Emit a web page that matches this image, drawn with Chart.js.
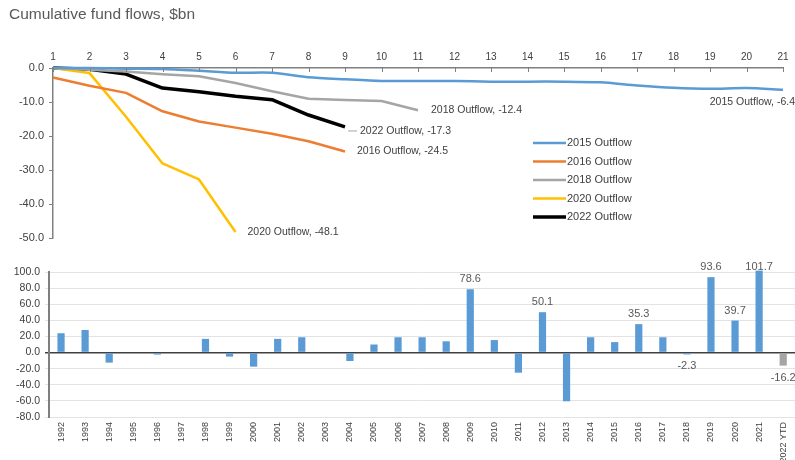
<!DOCTYPE html>
<html><head><meta charset="utf-8">
<script src="https://cdn.jsdelivr.net/npm/chart.js@4.4.0/dist/chart.umd.min.js"></script>
<style>
html,body{margin:0;padding:0;background:#fff;}
#wrap{position:relative;width:795px;height:460px;overflow:hidden;font-family:"Liberation Sans",Arial,sans-serif;}
#title{position:absolute;left:9px;top:5px;font-size:15.5px;color:#595959;white-space:nowrap;}
#c1{position:absolute;left:0;top:0;}
#c2{position:absolute;left:0;top:250px;}
</style></head><body>
<div id="wrap">
<canvas id="c1" width="795" height="250"></canvas>
<canvas id="c2" width="799" height="210"></canvas>
<div id="title">Cumulative fund flows, $bn</div>
</div>
<script>
// ---- Top panel data ----
const dayLabels = ['1','2','3','4','5','6','7','8','9','10','11','12','13','14','15','16','17','18','19','20','21'];
const outflow2015 = [0, 0, -0.2, -0.3, -0.8, -1.4, -1.4, -2.7, -3.3, -3.8, -3.8, -3.8, -4.0, -4.0, -4.0, -4.2, -5.1, -5.8, -6.1, -5.9, -6.4];
const outflow2016 = [-2.8, -5.2, -7.3, -12.7, -15.7, -17.5, -19.3, -21.5, -24.5];
const outflow2018 = [0, -0.5, -1.0, -1.8, -2.4, -4.4, -6.8, -9.0, -9.4, -9.7, -12.4];
const outflow2020 = [0, -1.5, -14.3, -28.0, -32.7, -48.1];
const outflow2022 = [0, -0.4, -1.8, -5.9, -7.0, -8.3, -9.3, -13.8, -17.3];
const seriesNames = ['2015 Outflow', '2016 Outflow', '2018 Outflow', '2020 Outflow', '2022 Outflow'];

// ---- Bottom panel data ----
const years = ['1992','1993','1994','1995','1996','1997','1998','1999','2000','2001','2002','2003','2004','2005','2006','2007','2008','2009','2010','2011','2012','2013','2014','2015','2016','2017','2018','2019','2020','2021','2022 YTD'];
const annualFlows = [24, 28, -12.5, 0, -2.5, 0, 17, -5, -17.5, 17, 19, 0, -10.5, 10, 19, 19, 14, 78.6, 15.5, -25, 50.1, -60.5, 19, 13, 35.3, 19, -2.3, 93.6, 39.7, 101.7, -16.2];
const labelledYears = ['2009','2012','2016','2018','2019','2020','2021','2022 YTD'];

const BLUE = '#5B9BD5', ORANGE = '#ED7D31', GREY = '#A5A5A5', YELLOW = '#FFC000', BLACK = '#000000';
const TXT = '#404040';
const FONT = '"Liberation Sans", Arial, sans-serif';

const seriesData = [outflow2015, outflow2016, outflow2018, outflow2020, outflow2022];
const seriesColors = [BLUE, ORANGE, GREY, YELLOW, BLACK];
const seriesWidths = [2.5, 2.5, 2.5, 2.5, 3.5];

// label placement styles (offsets from the last point)
const endLabelStyle = [
  {dx: 12, dy: 12, align: 'right'},
  {dx: 12, dy: 0, align: 'left'},
  {dx: 13, dy: 0, align: 'left'},
  {dx: 12, dy: 0, align: 'left'},
  {dx: 15, dy: 4, align: 'left', leader: true}
];

const endLabelsPlugin = {
  id: 'endLabels',
  afterDatasetsDraw(chart) {
    const ctx = chart.ctx;
    ctx.save();
    ctx.font = '10.5px ' + FONT;
    ctx.fillStyle = TXT;
    ctx.textBaseline = 'middle';
    chart.data.datasets.forEach((ds, i) => {
      const meta = chart.getDatasetMeta(i);
      const last = meta.data[meta.data.length - 1];
      const v = ds.data[ds.data.length - 1];
      const st = endLabelStyle[i];
      const txt = ds.label + ', ' + v.toFixed(1);
      if (st.leader) {
        ctx.strokeStyle = '#A5A5A5';
        ctx.lineWidth = 1;
        ctx.beginPath();
        ctx.moveTo(last.x + 3, last.y + st.dy);
        ctx.lineTo(last.x + st.dx - 3, last.y + st.dy);
        ctx.stroke();
      }
      ctx.textAlign = st.align;
      ctx.fillText(txt, last.x + st.dx, last.y + st.dy);
    });
    // inner tick marks on the top axis
    const xs = chart.scales.x;
    ctx.strokeStyle = '#808080';
    ctx.lineWidth = 1;
    xs.ticks.forEach((t, k) => {
      const px = Math.round(xs.getPixelForTick(k)) + 0.5;
      ctx.beginPath();
      ctx.moveTo(px, chart.chartArea.top);
      ctx.lineTo(px, chart.chartArea.top + 4);
      ctx.stroke();
    });
    ctx.restore();
  }
};

const legendPlugin = {
  id: 'innerLegend',
  afterDraw(chart) {
    const ctx = chart.ctx;
    ctx.save();
    ctx.font = '11px ' + FONT;
    ctx.textBaseline = 'middle';
    ctx.textAlign = 'left';
    chart.data.datasets.forEach((ds, i) => {
      const y = 143 + i * 18.5;
      ctx.strokeStyle = ds.borderColor;
      ctx.lineWidth = ds.borderWidth;
      ctx.beginPath();
      ctx.moveTo(533, y);
      ctx.lineTo(566, y);
      ctx.stroke();
      ctx.fillStyle = TXT;
      ctx.fillText(ds.label, 567, y);
    });
    ctx.restore();
  }
};

new Chart(document.getElementById('c1'), {
  type: 'line',
  data: {
    labels: dayLabels,
    datasets: seriesNames.map((n, i) => ({
      label: n,
      data: seriesData[i],
      borderColor: seriesColors[i],
      backgroundColor: seriesColors[i],
      borderWidth: seriesWidths[i],
      pointRadius: 0,
      tension: i === 0 ? 0.25 : 0,
      clip: false,
      borderJoinStyle: 'round'
    }))
  },
  options: {
    responsive: false,
    animation: false,
    devicePixelRatio: 1,
    layout: {padding: {left: 0, right: 12, top: 0, bottom: 5}},
    plugins: {legend: {display: false}, tooltip: {enabled: false}},
    scales: {
      x: {
        position: 'top',
        offset: false,
        grid: {display: true, drawOnChartArea: false, drawTicks: false},
        border: {display: true, color: '#808080', width: 1.5},
        ticks: {font: {size: 10, family: FONT}, color: TXT, padding: 5, autoSkip: false, maxRotation: 0},
        afterFit: s => { s.height = 68; }
      },
      y: {
        min: -50, max: 0,
        grid: {display: true, drawOnChartArea: false, drawTicks: true, tickLength: 4, color: '#808080'},
        border: {display: true, color: '#808080', width: 1.5},
        ticks: {stepSize: 10, font: {size: 11, family: FONT}, color: TXT, padding: 5,
          callback: v => Number(v).toFixed(1)},
        afterFit: s => { s.width = 53; }
      }
    }
  },
  plugins: [endLabelsPlugin, legendPlugin]
});

const barLabelsPlugin = {
  id: 'barLabels',
  afterDatasetsDraw(chart) {
    const ctx = chart.ctx;
    const meta = chart.getDatasetMeta(0);
    const ds = chart.data.datasets[0];
    ctx.save();
    ctx.font = '11px ' + FONT;
    ctx.fillStyle = '#595959';
    ctx.textAlign = 'center';
    ctx.textBaseline = 'middle';
    chart.data.labels.forEach((lab, i) => {
      if (!labelledYears.includes(lab)) return;
      const el = meta.data[i];
      const v = ds.data[i];
      let y = v >= 0 ? el.y - 10 : el.y + 12;
      if (v >= 0) y = Math.max(y, chart.chartArea.top - 5);
      ctx.fillText(v.toFixed(1), el.x, y);
    });
    ctx.restore();
  }
};

new Chart(document.getElementById('c2'), {
  type: 'bar',
  data: {
    labels: years,
    datasets: [{
      data: annualFlows,
      backgroundColor: years.map(y => y.indexOf('YTD') >= 0 ? GREY : BLUE),
      borderWidth: 0,
      categoryPercentage: 1,
      barPercentage: 0.3,
      clip: false
    }]
  },
  options: {
    responsive: false,
    animation: false,
    devicePixelRatio: 1,
    layout: {padding: {left: 0, right: 0, top: 22, bottom: 0}},
    plugins: {legend: {display: false}, tooltip: {enabled: false}},
    scales: {
      x: {
        grid: {display: false, drawTicks: false},
        border: {display: false},
        ticks: {font: {size: 9, family: FONT}, color: TXT, autoSkip: false, minRotation: 90, maxRotation: 90, padding: 5},
        afterFit: s => { s.height = 43; }
      },
      y: {
        min: -80, max: 100,
        grid: {
          color: c => c.tick && c.tick.value === 0 ? '#404040' : '#E3E3E3',
          lineWidth: c => c.tick && c.tick.value === 0 ? 1.5 : 1,
          drawTicks: true, tickLength: 4
        },
        border: {display: true, color: '#7F7F7F', width: 2},
        ticks: {stepSize: 20, font: {size: 10.5, family: FONT}, color: TXT, padding: 5,
          callback: v => Number(v).toFixed(1)},
        afterFit: s => { s.width = 49; }
      }
    }
  },
  plugins: [barLabelsPlugin]
});
</script>
</body></html>
